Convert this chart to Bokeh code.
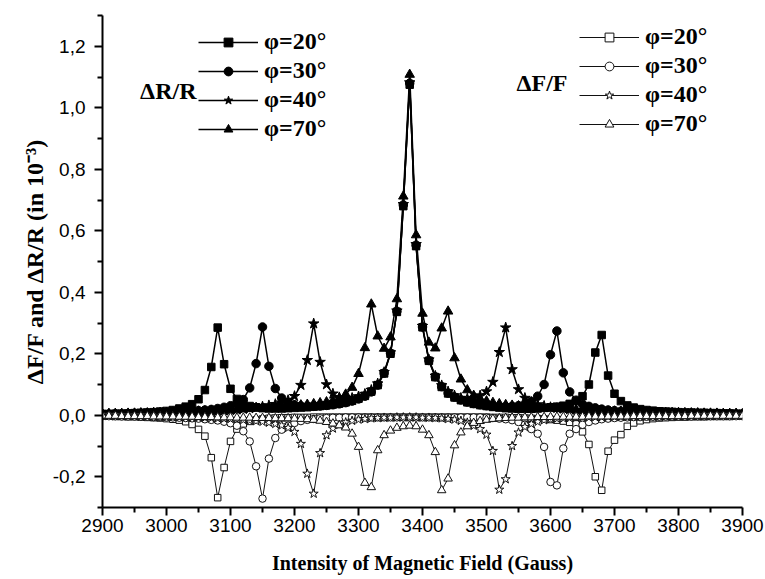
from bokeh.plotting import figure
from bokeh.models import (FixedTicker, CustomJSTickFormatter, Legend, LegendItem,
                          Label, Range1d)
from bokeh.embed import file_html
from bokeh.resources import INLINE

field = [
    2900, 2910, 2920, 2930, 2940, 2950, 2960, 2970, 2980, 2990,
    3000, 3010, 3020, 3030, 3040, 3050, 3060, 3070, 3080, 3090,
    3100, 3110, 3120, 3130, 3140, 3150, 3160, 3170, 3180, 3190,
    3200, 3210, 3220, 3230, 3240, 3250, 3260, 3270, 3280, 3290,
    3300, 3310, 3320, 3330, 3340, 3350, 3360, 3370, 3380, 3390,
    3400, 3410, 3420, 3430, 3440, 3450, 3460, 3470, 3480, 3490,
    3500, 3510, 3520, 3530, 3540, 3550, 3560, 3570, 3580, 3590,
    3600, 3610, 3620, 3630, 3640, 3650, 3660, 3670, 3680, 3690,
    3700, 3710, 3720, 3730, 3740, 3750, 3760, 3770, 3780, 3790,
    3800, 3810, 3820, 3830, 3840, 3850, 3860, 3870, 3880, 3890,
    3900,
]
dr_20 = [
    0.004, 0.004, 0.005, 0.005, 0.006, 0.007, 0.008, 0.009, 0.010, 0.012,
    0.014, 0.017, 0.022, 0.028, 0.036, 0.052, 0.082, 0.157, 0.285, 0.166,
    0.086, 0.053, 0.038, 0.030, 0.026, 0.023, 0.022, 0.022, 0.022, 0.023,
    0.024, 0.025, 0.026, 0.028, 0.030, 0.032, 0.035, 0.038, 0.042, 0.047,
    0.054, 0.063, 0.077, 0.098, 0.136, 0.200, 0.336, 0.680, 1.075, 0.550,
    0.286, 0.177, 0.124, 0.092, 0.071, 0.058, 0.049, 0.042, 0.037, 0.033,
    0.030, 0.027, 0.025, 0.023, 0.022, 0.021, 0.021, 0.021, 0.022, 0.024,
    0.026, 0.028, 0.031, 0.037, 0.046, 0.062, 0.100, 0.204, 0.261, 0.129,
    0.070, 0.046, 0.032, 0.025, 0.020, 0.017, 0.015, 0.013, 0.012, 0.011,
    0.010, 0.009, 0.009, 0.008, 0.008, 0.007, 0.007, 0.006, 0.006, 0.005,
    0.005,
]
dr_30 = [
    0.004, 0.004, 0.005, 0.005, 0.005, 0.006, 0.006, 0.007, 0.007, 0.008,
    0.009, 0.010, 0.011, 0.012, 0.013, 0.015, 0.017, 0.019, 0.022, 0.026,
    0.031, 0.039, 0.051, 0.089, 0.168, 0.287, 0.159, 0.087, 0.056, 0.041,
    0.034, 0.030, 0.029, 0.029, 0.030, 0.032, 0.034, 0.037, 0.041, 0.046,
    0.053, 0.062, 0.076, 0.098, 0.137, 0.202, 0.338, 0.684, 1.080, 0.553,
    0.287, 0.178, 0.125, 0.093, 0.072, 0.059, 0.050, 0.043, 0.038, 0.034,
    0.031, 0.029, 0.028, 0.028, 0.029, 0.031, 0.035, 0.045, 0.062, 0.100,
    0.197, 0.274, 0.138, 0.076, 0.049, 0.036, 0.029, 0.024, 0.020, 0.017,
    0.015, 0.013, 0.012, 0.011, 0.010, 0.009, 0.009, 0.008, 0.008, 0.007,
    0.007, 0.007, 0.006, 0.006, 0.006, 0.005, 0.005, 0.005, 0.005, 0.004,
    0.004,
]
dr_40 = [
    0.004, 0.004, 0.005, 0.005, 0.005, 0.006, 0.006, 0.006, 0.007, 0.007,
    0.008, 0.008, 0.009, 0.010, 0.010, 0.011, 0.012, 0.013, 0.014, 0.015,
    0.016, 0.018, 0.020, 0.022, 0.025, 0.028, 0.032, 0.036, 0.041, 0.049,
    0.062, 0.098, 0.179, 0.298, 0.173, 0.100, 0.070, 0.058, 0.055, 0.056,
    0.061, 0.069, 0.082, 0.103, 0.140, 0.204, 0.340, 0.686, 1.082, 0.556,
    0.290, 0.181, 0.128, 0.097, 0.077, 0.064, 0.056, 0.054, 0.056, 0.064,
    0.077, 0.108, 0.205, 0.285, 0.149, 0.084, 0.056, 0.043, 0.035, 0.030,
    0.026, 0.023, 0.021, 0.019, 0.017, 0.016, 0.015, 0.014, 0.013, 0.012,
    0.011, 0.011, 0.010, 0.010, 0.009, 0.009, 0.008, 0.008, 0.008, 0.007,
    0.007, 0.007, 0.006, 0.006, 0.006, 0.006, 0.005, 0.005, 0.005, 0.005,
    0.004,
]
dr_70 = [
    0.004, 0.005, 0.005, 0.005, 0.006, 0.006, 0.007, 0.007, 0.008, 0.008,
    0.009, 0.010, 0.010, 0.011, 0.012, 0.013, 0.014, 0.015, 0.016, 0.017,
    0.018, 0.019, 0.020, 0.021, 0.022, 0.024, 0.025, 0.026, 0.028, 0.030,
    0.031, 0.033, 0.035, 0.037, 0.040, 0.043, 0.048, 0.055, 0.068, 0.090,
    0.135, 0.219, 0.361, 0.257, 0.217, 0.254, 0.378, 0.712, 1.108, 0.586,
    0.331, 0.237, 0.218, 0.283, 0.338, 0.186, 0.117, 0.082, 0.064, 0.053,
    0.046, 0.041, 0.037, 0.034, 0.032, 0.030, 0.028, 0.026, 0.025, 0.023,
    0.022, 0.021, 0.020, 0.019, 0.018, 0.017, 0.016, 0.015, 0.014, 0.013,
    0.013, 0.012, 0.011, 0.011, 0.010, 0.010, 0.009, 0.009, 0.008, 0.008,
    0.008, 0.007, 0.007, 0.007, 0.006, 0.006, 0.006, 0.005, 0.005, 0.005,
    0.005,
]
df_20 = [
    -0.003, -0.003, -0.004, -0.004, -0.005, -0.005, -0.006, -0.007, -0.008, -0.009,
    -0.011, -0.013, -0.016, -0.021, -0.030, -0.046, -0.068, -0.138, -0.268, -0.170,
    -0.085, -0.045, -0.028, -0.020, -0.015, -0.012, -0.010, -0.009, -0.008, -0.008,
    -0.007, -0.007, -0.007, -0.006, -0.006, -0.006, -0.006, -0.006, -0.006, -0.006,
    -0.006, -0.006, -0.006, -0.006, -0.006, -0.006, -0.006, -0.006, -0.006, -0.006,
    -0.006, -0.006, -0.006, -0.006, -0.006, -0.006, -0.006, -0.006, -0.006, -0.006,
    -0.006, -0.007, -0.007, -0.007, -0.008, -0.008, -0.009, -0.010, -0.011, -0.012,
    -0.014, -0.016, -0.019, -0.023, -0.028, -0.054, -0.095, -0.200, -0.244, -0.117,
    -0.081, -0.063, -0.036, -0.025, -0.018, -0.014, -0.011, -0.009, -0.008, -0.007,
    -0.006, -0.006, -0.005, -0.005, -0.005, -0.004, -0.004, -0.004, -0.004, -0.003,
    -0.003,
]
df_30 = [
    -0.003, -0.003, -0.003, -0.004, -0.004, -0.004, -0.005, -0.005, -0.006, -0.006,
    -0.007, -0.007, -0.008, -0.009, -0.010, -0.011, -0.013, -0.015, -0.017, -0.021,
    -0.026, -0.034, -0.052, -0.085, -0.166, -0.271, -0.141, -0.074, -0.047, -0.034,
    -0.025, -0.019, -0.015, -0.012, -0.010, -0.009, -0.008, -0.008, -0.007, -0.007,
    -0.007, -0.007, -0.007, -0.007, -0.007, -0.007, -0.007, -0.007, -0.007, -0.007,
    -0.007, -0.007, -0.007, -0.007, -0.007, -0.007, -0.007, -0.007, -0.007, -0.007,
    -0.008, -0.009, -0.011, -0.013, -0.016, -0.022, -0.031, -0.045, -0.060, -0.103,
    -0.217, -0.228, -0.108, -0.060, -0.045, -0.031, -0.022, -0.017, -0.013, -0.011,
    -0.009, -0.008, -0.007, -0.006, -0.006, -0.005, -0.005, -0.005, -0.004, -0.004,
    -0.004, -0.004, -0.004, -0.003, -0.003, -0.003, -0.003, -0.003, -0.003, -0.003,
    -0.003,
]
df_40 = [
    -0.002, -0.002, -0.003, -0.003, -0.003, -0.003, -0.004, -0.004, -0.004, -0.005,
    -0.005, -0.005, -0.006, -0.006, -0.007, -0.007, -0.008, -0.009, -0.010, -0.011,
    -0.012, -0.013, -0.015, -0.017, -0.019, -0.021, -0.024, -0.028, -0.033, -0.041,
    -0.054, -0.093, -0.190, -0.255, -0.123, -0.065, -0.043, -0.031, -0.023, -0.018,
    -0.014, -0.012, -0.010, -0.009, -0.008, -0.008, -0.007, -0.007, -0.007, -0.007,
    -0.008, -0.008, -0.009, -0.010, -0.012, -0.014, -0.018, -0.024, -0.034, -0.045,
    -0.063, -0.116, -0.242, -0.208, -0.100, -0.056, -0.038, -0.028, -0.021, -0.016,
    -0.013, -0.011, -0.010, -0.009, -0.008, -0.007, -0.007, -0.006, -0.006, -0.005,
    -0.005, -0.005, -0.005, -0.004, -0.004, -0.004, -0.004, -0.004, -0.003, -0.003,
    -0.003, -0.003, -0.003, -0.003, -0.003, -0.003, -0.002, -0.002, -0.002, -0.002,
    -0.002,
]
df_70 = [
    -0.002, -0.002, -0.002, -0.003, -0.003, -0.003, -0.003, -0.003, -0.004, -0.004,
    -0.004, -0.004, -0.005, -0.005, -0.005, -0.006, -0.006, -0.006, -0.007, -0.007,
    -0.007, -0.008, -0.008, -0.008, -0.009, -0.009, -0.009, -0.010, -0.010, -0.010,
    -0.011, -0.012, -0.013, -0.015, -0.018, -0.022, -0.027, -0.033, -0.040, -0.060,
    -0.103, -0.220, -0.234, -0.114, -0.065, -0.050, -0.041, -0.036, -0.034, -0.036,
    -0.047, -0.065, -0.120, -0.244, -0.206, -0.098, -0.056, -0.036, -0.025, -0.019,
    -0.015, -0.012, -0.010, -0.009, -0.008, -0.008, -0.007, -0.007, -0.006, -0.006,
    -0.006, -0.005, -0.005, -0.005, -0.005, -0.005, -0.004, -0.004, -0.004, -0.004,
    -0.004, -0.004, -0.004, -0.003, -0.003, -0.003, -0.003, -0.003, -0.003, -0.003,
    -0.003, -0.003, -0.002, -0.002, -0.002, -0.002, -0.002, -0.002, -0.002, -0.002,
    -0.002,
]

angle_labels = ["φ=20°", "φ=30°", "φ=40°", "φ=70°"]
x_ticks = [2900, 3000, 3100, 3200, 3300, 3400, 3500, 3600, 3700, 3800, 3900]
x_minor = [2950, 3050, 3150, 3250, 3350, 3450, 3550, 3650, 3750, 3850]
y_ticks = [-0.2, 0.0, 0.2, 0.4, 0.6, 0.8, 1.0, 1.2]
y_minor = [-0.3, -0.1, 0.1, 0.3, 0.5, 0.7, 0.9, 1.1, 1.3]

p = figure(width=765, height=579, output_backend="svg", toolbar_location=None,
           x_range=Range1d(2900, 3900), y_range=Range1d(-0.3, 1.3),
           min_border_left=102, min_border_right=23, min_border_top=15,
           min_border_bottom=72)
p.outline_line_color = None
p.xgrid.grid_line_color = None
p.ygrid.grid_line_color = None
p.background_fill_color = "white"
p.border_fill_color = "white"

p.xaxis.ticker = FixedTicker(ticks=x_ticks, minor_ticks=x_minor)
p.yaxis.ticker = FixedTicker(ticks=y_ticks, minor_ticks=y_minor)

for ax in (p.xaxis[0], p.yaxis[0]):
    ax.axis_line_width = 2
    ax.axis_line_color = "black"
    ax.major_tick_line_color = "black"
    ax.major_tick_line_width = 2
    ax.minor_tick_line_color = "black"
    ax.minor_tick_line_width = 2
    ax.major_tick_out = 8
    ax.major_tick_in = 0
    ax.minor_tick_out = 5
    ax.minor_tick_in = 0
    ax.major_label_text_font = "Liberation Sans"
    ax.major_label_text_font_size = "19px"
    ax.major_label_text_color = "black"
    ax.axis_label_text_font = "Liberation Serif"
    ax.axis_label_text_font_style = "bold"
    ax.axis_label_text_color = "black"

p.yaxis[0].formatter = CustomJSTickFormatter(
    code="return tick.toFixed(1).replace('.', ',');")
p.xaxis[0].major_label_standoff = 3
p.yaxis[0].major_label_standoff = 9
p.xaxis[0].axis_label = "Intensity of Magnetic Field (Gauss)"
p.xaxis[0].axis_label_text_font_size = "20px"
p.xaxis[0].axis_label_standoff = 17
p.yaxis[0].axis_label = "ΔF/F and ΔR/R (in 10⁻³)"
p.yaxis[0].axis_label_text_font_size = "24px"
p.yaxis[0].axis_label_standoff = 2

filled = [(dr_20, "square", 7.5), (dr_30, "circle", 8.5), (dr_40, "star", 11), (dr_70, "triangle", 9.5)]
opened = [(df_20, "square", 6.5), (df_30, "circle", 7.5), (df_40, "star", 9.5), (df_70, "triangle", 8.5)]

items_r = []
for (ys, mk, sz), lab in zip(filled, angle_labels):
    ln = p.line(field, ys, line_color="black", line_width=1.5)
    sc = p.scatter(field, ys, marker=mk, size=sz, fill_color="black", line_color="black")
    items_r.append(LegendItem(label=lab, renderers=[ln, sc]))

items_f = []
for (ys, mk, sz), lab in zip(opened, angle_labels):
    ln = p.line(field, ys, line_color="#111111", line_width=1.0)
    sc = p.scatter(field, ys, marker=mk, size=sz, fill_color="white", line_color="#111111", line_width=1.0)
    items_f.append(LegendItem(label=lab, renderers=[ln, sc]))


def make_legend(items, loc):
    return Legend(items=items, location=loc, orientation="vertical",
                  border_line_color=None, background_fill_alpha=0,
                  padding=0, margin=0, spacing=2,
                  glyph_width=60, glyph_height=22, label_height=20,
                  label_standoff=6,
                  label_text_font="Liberation Serif", label_text_font_style="bold",
                  label_text_font_size="24px", label_text_color="black")


p.add_layout(make_legend(items_r, (96, 365)), "center")
p.add_layout(make_legend(items_f, (477, 370)), "center")

p.add_layout(Label(x=94, y=417, x_units="screen", y_units="screen", text="ΔR/R",
                   text_align="right", text_baseline="middle",
                   text_font="Liberation Serif", text_font_style="bold",
                   text_font_size="24px", text_color="black"))
p.add_layout(Label(x=465, y=425, x_units="screen", y_units="screen", text="ΔF/F",
                   text_align="right", text_baseline="middle",
                   text_font="Liberation Serif", text_font_style="bold",
                   text_font_size="24px", text_color="black"))

open("out.html", "w").write(file_html(p, INLINE))
